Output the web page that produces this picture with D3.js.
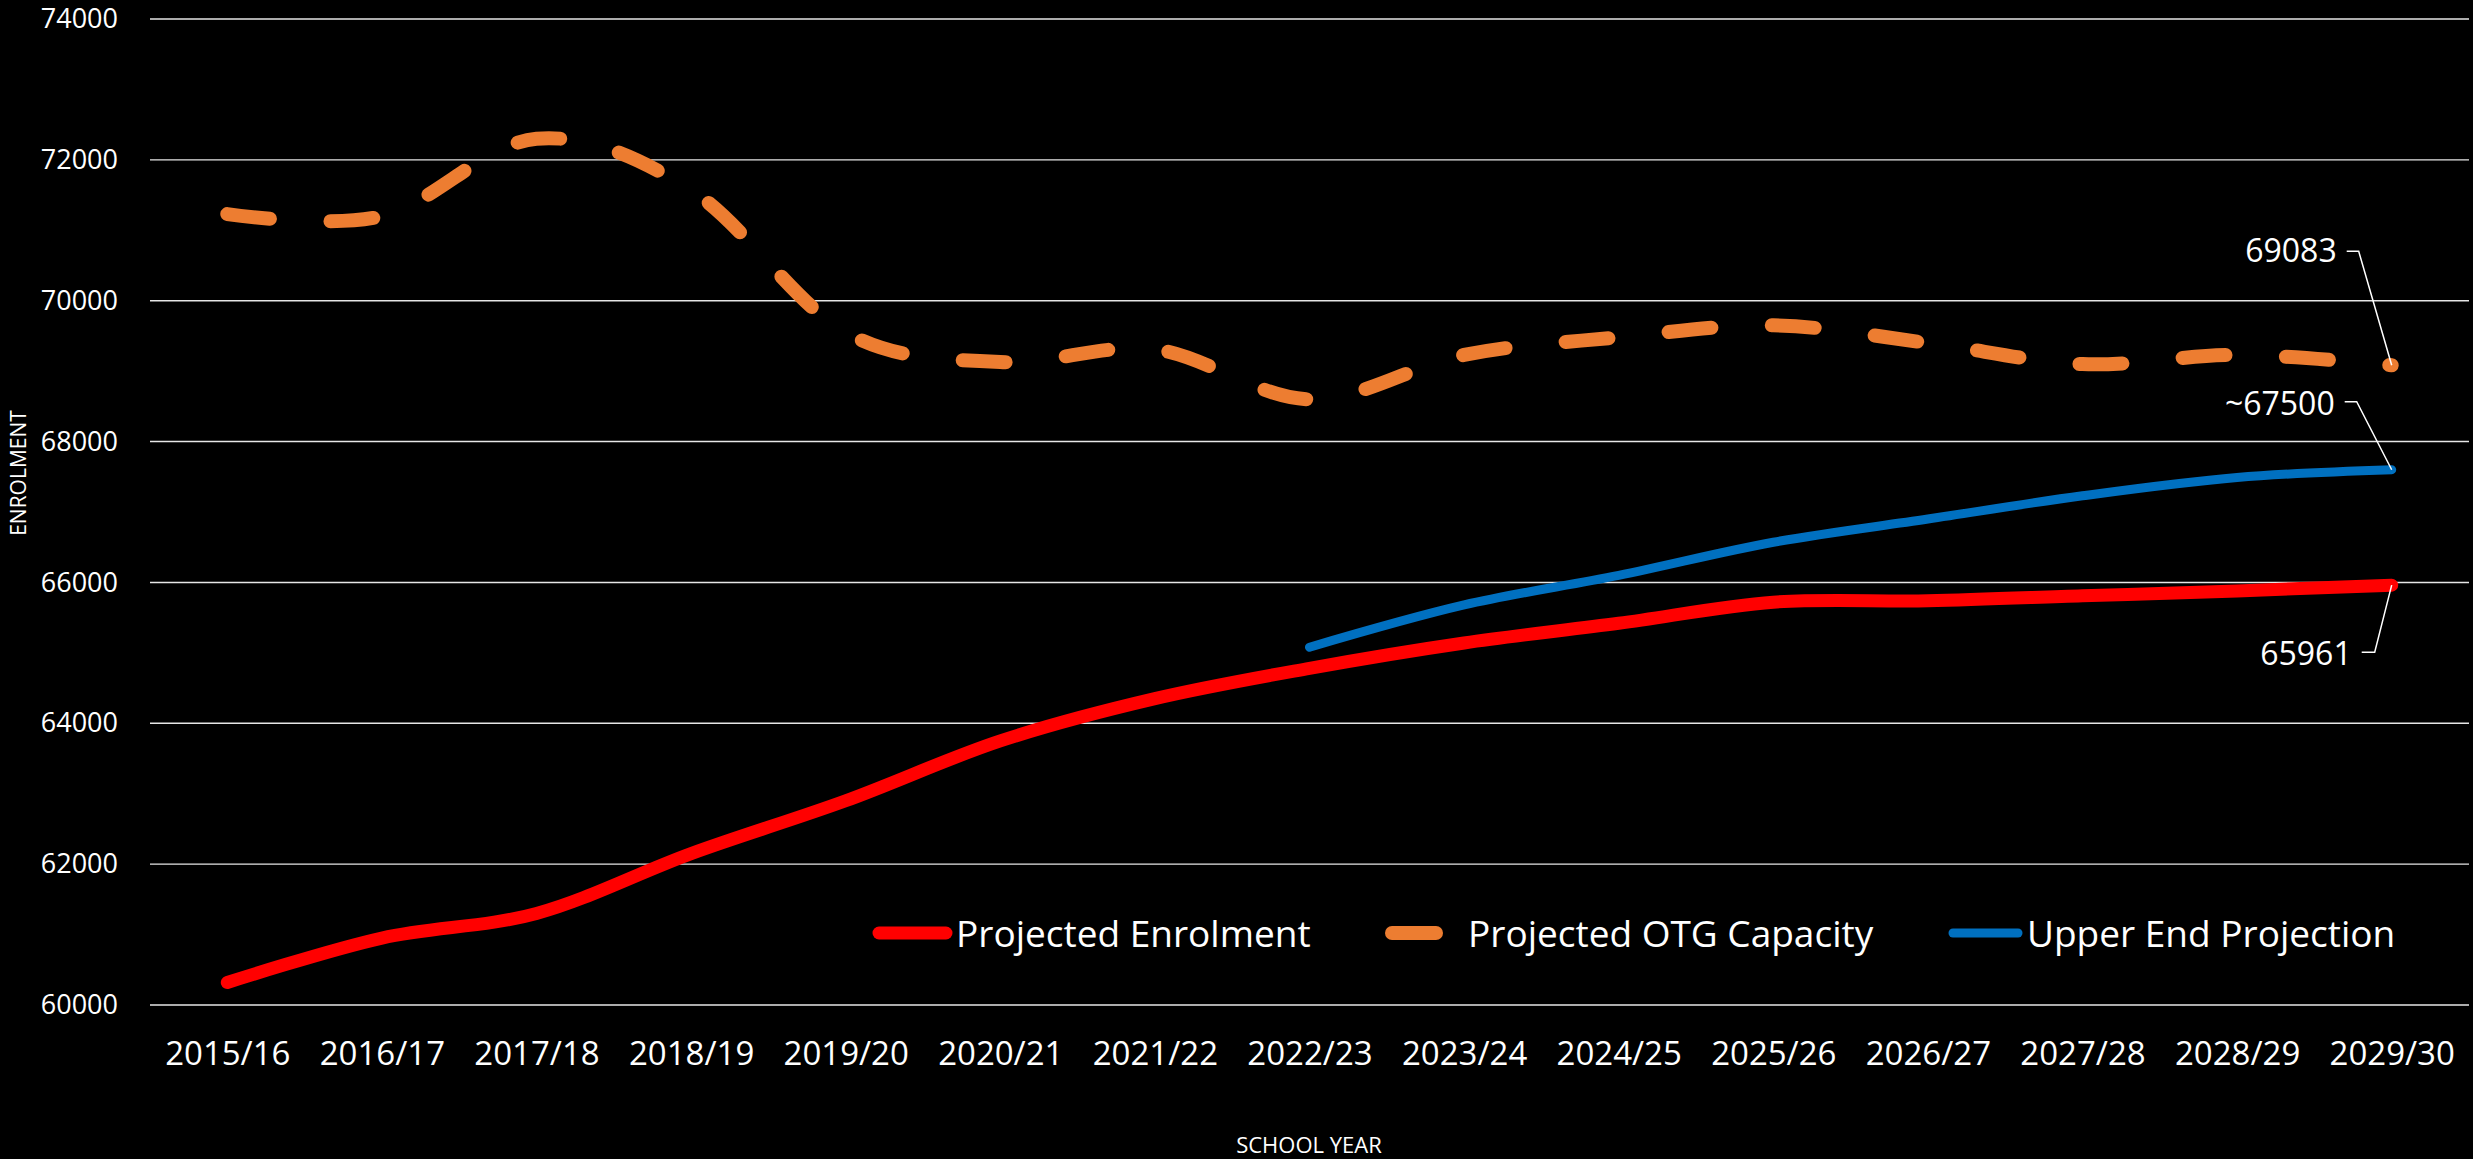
<!DOCTYPE html>
<html>
<head>
<meta charset="utf-8">
<script src="https://cdn.jsdelivr.net/npm/d3@7"></script>
<style>
  body { margin: 0; background: #000; }
  text { font-family: "Open Sans", "Noto Sans", sans-serif; fill: #fff; }
</style>
</head>
<body>
<div class="chart"></div>
<script>
var categories = ["2015/16", "2016/17", "2017/18", "2018/19", "2019/20", "2020/21", "2021/22", "2022/23",
                  "2023/24", "2024/25", "2025/26", "2026/27", "2027/28", "2028/29", "2029/30"];
var enrolment = [60320, 60950, 61300, 62150, 62900, 63750, 64350, 64780, 65140, 65420, 65720, 65740, 65810, 65880, 65961];
var capacity = [71230, 71200, 72300, 71570, 69550, 69130, 69310, 68600, 69230, 69480, 69650, 69400, 69100, 69230, 69083];
var upper = [null, null, null, null, null, null, null, 65080, 65680, 66100, 66570, 66900, 67230, 67490, 67600];
var yTicks = [60000, 62000, 64000, 66000, 68000, 70000, 72000, 74000];
var seriesNames = ["Projected Enrolment", "Projected OTG Capacity", "Upper End Projection"];
var endLabels = ["65961", "69083", "~67500"];

var width = 2473, height = 1159;

var svg = d3.select(".chart").append("svg")
    .attr("width", width)
    .attr("height", height)
    .style("background", "#000");

var x = d3.scalePoint().domain(categories).range([150, 2469]).padding(0.5);
var y = d3.scaleLinear().domain([60000, 74000]).range([1005, 19]);

// gridlines
svg.selectAll(".grid")
    .data(yTicks)
    .enter().append("line")
    .attr("x1", 150).attr("x2", 2469)
    .attr("y1", function(d) { return y(d); })
    .attr("y2", function(d) { return y(d); })
    .style("stroke", "#e6e6e6")
    .style("stroke-width", 1.4);

// y axis labels
var yAxis = d3.axisLeft(y).tickValues(yTicks).tickSize(0).tickPadding(0).tickFormat(d3.format("d"));
svg.append("g")
    .attr("transform", "translate(118,0)")
    .call(yAxis)
    .call(function(g) { g.select(".domain").remove(); })
    .selectAll("text")
    .attr("fill", "#fff")
    .style("font-size", "27px");

// x axis labels
var xAxis = d3.axisBottom(x).tickSize(0).tickPadding(0);
svg.append("g")
    .attr("transform", "translate(0,1040)")
    .call(xAxis)
    .call(function(g) { g.select(".domain").remove(); })
    .selectAll("text")
    .attr("fill", "#fff")
    .attr("dy", "0.76em")
    .style("font-size", "33px");

var line = d3.line()
    .defined(function(d) { return d != null; })
    .x(function(d, i) { return x(categories[i]); })
    .y(function(d) { return y(d); })
    .curve(d3.curveCatmullRom.alpha(0));

// series
svg.append("path")
    .datum(enrolment)
    .attr("d", line)
    .style("fill", "none")
    .style("stroke", "#ff0000")
    .style("stroke-width", 13)
    .style("stroke-linecap", "round")
    .style("stroke-linejoin", "round");

var capPath = svg.append("path")
    .datum(capacity)
    .attr("d", line)
    .style("fill", "none")
    .style("stroke", "#ed7d31")
    .style("stroke-width", 14)
    .style("stroke-linecap", "round");

// stretch the gap a little so the dash pattern ends on a short dot like the original
var capLen = capPath.node().getTotalLength();
var period = (capLen - 3) / Math.round(capLen / 104);
capPath.style("stroke-dasharray", "43," + (period - 43).toFixed(3));

svg.append("path")
    .datum(upper)
    .attr("d", line)
    .style("fill", "none")
    .style("stroke", "#0070c0")
    .style("stroke-width", 9)
    .style("stroke-linecap", "round")
    .style("stroke-linejoin", "round");

// end labels with leader lines
var last = categories.length - 1;
var ends = [
  {v: enrolment[last], text: endLabels[0], dx: -40, dy: 80, tx: -17, ty: 67},
  {v: capacity[last], text: endLabels[1], dx: -55, dy: -103, tx: -33, ty: -114},
  {v: upper[last], text: endLabels[2], dx: -57, dy: -55, tx: -35, ty: -68}
];

var endG = svg.selectAll(".endLabel")
    .data(ends)
    .enter().append("g")
    .attr("transform", function(d) { return "translate(" + x(categories[last]) + "," + y(d.v) + ")"; });

endG.append("path")
    .attr("d", function(d) {
      return "M" + (d.dx + 10) + "," + d.ty + "H" + d.tx + "L0,0";
    })
    .style("fill", "none")
    .style("stroke", "#fff")
    .style("stroke-width", 1.5);

endG.append("text")
    .attr("x", function(d) { return d.dx; })
    .attr("y", function(d) { return d.dy; })
    .attr("text-anchor", "end")
    .style("font-size", "32px")
    .text(function(d) { return d.text; });

// legend
var legend = [
  {name: seriesNames[0], color: "#ff0000", w: 13, x1: 879, x2: 946, tx: 956},
  {name: seriesNames[1], color: "#ed7d31", w: 14, x1: 1392, x2: 1436, tx: 1468},
  {name: seriesNames[2], color: "#0070c0", w: 9, x1: 1953, x2: 2018, tx: 2027}
];

var lg = svg.selectAll(".legend")
    .data(legend)
    .enter().append("g");

lg.append("line")
    .attr("x1", function(d) { return d.x1; })
    .attr("x2", function(d) { return d.x2; })
    .attr("y1", 933).attr("y2", 933)
    .style("stroke", function(d) { return d.color; })
    .style("stroke-width", function(d) { return d.w; })
    .style("stroke-linecap", "round");

lg.append("text")
    .attr("x", function(d) { return d.tx; })
    .attr("y", 947)
    .style("font-size", "37px")
    .text(function(d) { return d.name; });

// axis titles
svg.append("text")
    .attr("transform", "translate(26,473) rotate(-90)")
    .attr("text-anchor", "middle")
    .style("font-size", "21px")
    .text("ENROLMENT");

svg.append("text")
    .attr("x", 1309)
    .attr("y", 1153)
    .attr("text-anchor", "middle")
    .style("font-size", "22px")
    .text("SCHOOL YEAR");
</script>
</body>
</html>
